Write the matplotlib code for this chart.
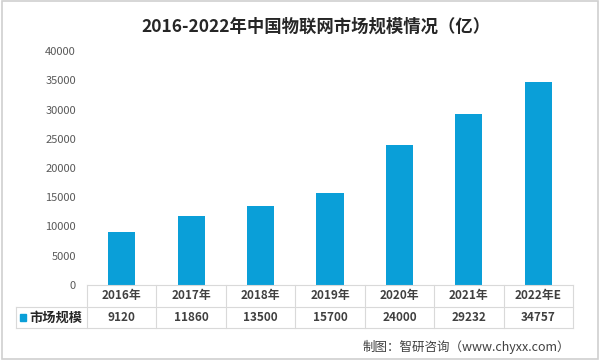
import matplotlib.pyplot as plt
from matplotlib.patches import Rectangle

plt.rcParams['font.family'] = ['Noto Sans CJK SC', 'DejaVu Sans']

years = ['2016年', '2017年', '2018年', '2019年', '2020年', '2021年', '2022年E']
values = [9120, 11860, 13500, 15700, 24000, 29232, 34757]
series_name = '市场规模'
title = '2016-2022年中国物联网市场规模情况（亿）'
source = '制图：智研咨询（www.chyxx.com）'

W, H = 600, 360
bar_color = '#0A9FD8'
grid_color = '#D9D9D9'
text_color = '#404040'

fig = plt.figure(figsize=(6, 3.6), dpi=100)

def fx(px):
    return px / W

def fy(py):
    return 1 - py / H

# plot area
x0, x1 = 87, 573
ytop, ybot = 51, 285
ax = fig.add_axes([fx(x0), fy(ybot), fx(x1) - fx(x0), fy(ytop) - fy(ybot)])
ax.bar(range(len(values)), values, width=0.39, color=bar_color)
ax.set_xlim(-0.5, len(values) - 0.5)
ax.set_ylim(0, 40000)
ax.set_yticks(range(0, 40001, 5000))
ax.tick_params(axis='y', length=0, labelsize=8, colors='#595959', pad=8)
ax.set_xticks([])
for s in ax.spines.values():
    s.set_visible(False)

# data table below the axis
row1, row2, row3 = 285, 307, 328
legend_left = 16
col_w = (x1 - x0) / len(years)
line_kw = dict(color=grid_color, lw=0.8, transform=fig.transFigure)
fig.add_artist(plt.Line2D([fx(x0), fx(x1)], [fy(row1)] * 2, **line_kw))
fig.add_artist(plt.Line2D([fx(legend_left), fx(x1)], [fy(row2)] * 2, **line_kw))
fig.add_artist(plt.Line2D([fx(legend_left), fx(x1)], [fy(row3)] * 2, **line_kw))
fig.add_artist(plt.Line2D([fx(legend_left)] * 2, [fy(row2), fy(row3)], **line_kw))
for i in range(len(years) + 1):
    xp = x0 + i * col_w
    fig.add_artist(plt.Line2D([fx(xp)] * 2, [fy(row1), fy(row3)], **line_kw))

for i, (yr, v) in enumerate(zip(years, values)):
    xc = x0 + (i + 0.5) * col_w
    fig.text(fx(xc), fy((row1 + row2) / 2), yr, ha='center', va='center',
             fontsize=8.5, fontweight='bold', color=text_color)
    fig.text(fx(xc), fy((row2 + row3) / 2), str(v), ha='center', va='center',
             fontsize=8.5, fontweight='bold', color=text_color)

# legend key in the table
fig.add_artist(Rectangle((fx(20), fy(321)), fx(6), fy(314) - fy(321),
                         color=bar_color, transform=fig.transFigure))
fig.text(fx(29), fy((row2 + row3) / 2), series_name, ha='left', va='center',
         fontsize=9.5, fontweight='bold', color='#262626')

# title and source
fig.text(fx(316), fy(27), title, ha='center', va='center',
         fontsize=12.5, fontweight='bold', color='#262626')
fig.text(fx(570), fy(347), source, ha='right', va='center',
         fontsize=9, color='#404040')

# outer frame
fig.add_artist(Rectangle((0.003, 0.003), 0.994, 0.994, fill=False,
                         edgecolor='#D0D0D0', lw=1.2, transform=fig.transFigure))

fig.savefig('out.png', dpi=100)
